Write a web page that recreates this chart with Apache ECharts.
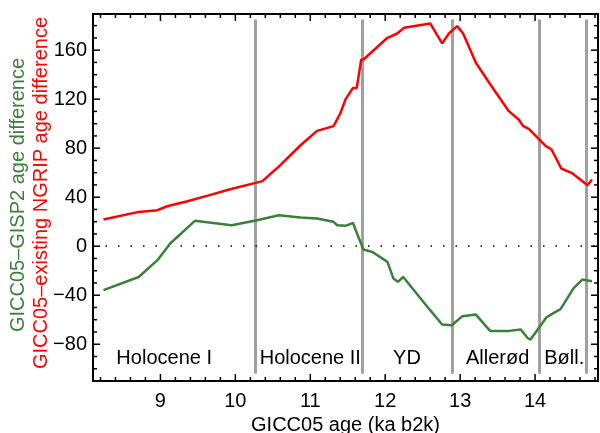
<!DOCTYPE html>
<html>
<head>
<meta charset="utf-8">
<script src="https://cdn.jsdelivr.net/npm/echarts@6/dist/echarts.min.js"></script>
<style>
  html, body { margin: 0; padding: 0; background: #fff; }
  #chart { width: 600px; height: 433px; }
</style>
</head>
<body>
<div id="chart"></div>
<script>
// GICC05 - existing NGRIP age difference (red)
const redAge = [8.24, 8.71, 8.96, 9.09, 9.36, 9.62, 9.93, 10.27, 10.36, 10.60, 10.87, 11.09, 11.31, 11.40, 11.47, 11.57, 11.62, 11.68, 11.71, 12.03, 12.16, 12.25, 12.60, 12.76, 12.85, 12.96, 13.04, 13.21, 13.41, 13.65, 13.78, 13.84, 13.92, 14.14, 14.22, 14.35, 14.50, 14.70, 14.76]
const redDiff = [21.8, 28.0, 29.4, 32.6, 36.7, 41.1, 46.5, 51.7, 53.1, 66.1, 82.4, 94.1, 98.0, 108.3, 119.8, 129.2, 129.2, 152.4, 152.4, 170.1, 173.6, 178.2, 181.8, 165.5, 173.6, 179.6, 173.6, 149.7, 131.4, 110.2, 103.4, 98.2, 95.5, 81.9, 78.9, 63.4, 59.4, 49.8, 54.4]

// GICC05 - GISP2 age difference (green)
const greenAge = [8.24, 8.71, 8.96, 9.13, 9.46, 9.95, 10.29, 10.58, 10.87, 11.09, 11.31, 11.36, 11.47, 11.57, 11.65, 11.71, 11.83, 12.03, 12.11, 12.17, 12.24, 12.60, 12.76, 12.89, 13.03, 13.21, 13.40, 13.65, 13.81, 13.90, 13.94, 14.15, 14.25, 14.34, 14.51, 14.63, 14.76]
const greenDiff = [-35.9, -25.1, -11.4, 2.2, 20.7, 17.1, 21.2, 25.3, 23.4, 22.6, 19.9, 17.1, 16.6, 19.0, 6.3, -2.7, -4.7, -12.8, -26.4, -29.1, -25.1, -52.2, -63.9, -64.5, -57.1, -55.8, -69.1, -69.1, -68.0, -74.9, -76.2, -58.2, -54.4, -51.4, -34.6, -27.2, -28.6]

// period boundaries and labels
const boundaries = [10.27, 11.7, 12.89, 14.06, 14.68]
const periodNames = ['Holocene I', 'Holocene II', 'YD', 'Allerød', 'Bøll.']
const periodCenters = [9.05, 11.0, 12.29, 13.5, 14.39]

// ticks
const xTicks = [9, 10, 11, 12, 13, 14]
const xMinor = [8.2, 8.4, 8.6, 8.8, 9.2, 9.4, 9.6, 9.8, 10.2, 10.4, 10.6, 10.8, 11.2, 11.4, 11.6, 11.8, 12.2, 12.4, 12.6, 12.8, 13.2, 13.4, 13.6, 13.8, 14.2, 14.4, 14.6, 14.8]
const yTicks = [-80, -40, 0, 40, 80, 120, 160]
const yMinor = [-110, -100, -90, -70, -60, -50, -30, -20, -10, 10, 20, 30, 50, 60, 70, 90, 100, 110, 130, 140, 150, 170, 180]

const font = 'Liberation Sans, Arial, sans-serif'
const xMin = 8.1, xMax = 14.84
const yMin = -110, yMax = 189.5

const frame = { color: '#000', width: 2 }

// axes only draw the labels and the frame, ticks come from the custom series
const xAxes = [
  {
    type: 'value', position: 'bottom', min: xMin, max: xMax,
    axisLine: { show: true, onZero: false, lineStyle: frame },
    axisTick: { show: false },
    axisLabel: { customValues: xTicks, fontSize: 20, fontFamily: font, color: '#000', margin: 10 },
    splitLine: { show: false },
    name: 'GICC05 age (ka b2k)', nameLocation: 'middle', nameGap: 32,
    nameTextStyle: { fontSize: 20, fontFamily: font, color: '#000' }
  },
  {
    type: 'value', position: 'top', min: xMin, max: xMax,
    axisLine: { show: true, onZero: false, lineStyle: frame },
    axisTick: { show: false }, axisLabel: { show: false }, splitLine: { show: false }
  }
]
const yAxes = [
  {
    type: 'value', position: 'left', min: yMin, max: yMax,
    axisLine: { show: true, onZero: false, lineStyle: frame },
    axisTick: { show: false },
    axisLabel: {
      customValues: yTicks, fontSize: 20, fontFamily: font, color: '#000', margin: 6,
      formatter: v => String(v).replace('-', '\u2212')
    },
    splitLine: { show: false }
  },
  {
    type: 'value', position: 'right', min: yMin, max: yMax,
    axisLine: { show: true, onZero: false, lineStyle: frame },
    axisTick: { show: false }, axisLabel: { show: false }, splitLine: { show: false }
  }
]

// inward ticks on all four sides: [x, y, side (0 bottom,1 top,2 left,3 right), length]
const tickItems = []
xTicks.forEach(v => { tickItems.push([v, yMin, 0, 7], [v, yMax, 1, 7]) })
xMinor.forEach(v => { tickItems.push([v, yMin, 0, 4], [v, yMax, 1, 4]) })
yTicks.forEach(v => { tickItems.push([xMin, v, 2, 7], [xMax, v, 3, 7]) })
yMinor.forEach(v => { tickItems.push([xMin, v, 2, 4], [xMax, v, 3, 4]) })

const renderTick = (params, api) => {
  const p = api.coord([api.value(0), api.value(1)])
  const side = api.value(2)
  const len = api.value(3)
  let dx = 0, dy = 0
  if (side === 0) dy = -len
  else if (side === 1) dy = len
  else if (side === 2) dx = len
  else dx = -len
  return {
    type: 'line',
    shape: { x1: p[0], y1: p[1], x2: p[0] + dx, y2: p[1] + dy },
    style: { stroke: '#000', lineWidth: 1.5 }
  }
}

const option = {
  animation: false,
  grid: { left: 93, right: 2, top: 14, bottom: 52, containLabel: false, outerBoundsMode: 'none' },
  xAxis: xAxes,
  yAxis: yAxes,
  graphic: [
    { type: 'text', rotation: Math.PI / 2, x: 18, y: 195,
      style: { text: 'GICC05–GISP2 age difference', fill: '#3a7f3a', font: '20px ' + font, textAlign: 'center', textVerticalAlign: 'middle' } },
    { type: 'text', rotation: Math.PI / 2, x: 41, y: 193,
      style: { text: 'GICC05–existing NGRIP age difference', fill: '#ff0000', font: '20px ' + font, textAlign: 'center', textVerticalAlign: 'middle' } }
  ],
  series: [
    {
      type: 'line', data: [], silent: true,
      markLine: {
        silent: true, symbol: 'none', label: { show: false },
        lineStyle: { color: '#a0a0a0', width: 3, type: 'solid' },
        data: boundaries.map(b => [{ coord: [b, -104] }, { coord: [b, 185] }])
      }
    },
    {
      type: 'line', data: [], silent: true,
      markLine: {
        silent: true, symbol: 'none', label: { show: false },
        lineStyle: { color: '#000', width: 1.5, type: [1.5, 11] },
        data: [{ yAxis: 0 }]
      }
    },
    {
      type: 'custom', silent: true, clip: false, z: 10,
      encode: { x: 0, y: 1 },
      renderItem: renderTick,
      data: tickItems
    },
    {
      name: 'GICC05-GISP2', type: 'line', showSymbol: false, z: 5,
      data: greenAge.map((a, i) => [a, greenDiff[i]]),
      lineStyle: { color: '#3a7f3a', width: 2.5 }
    },
    {
      name: 'GICC05-NGRIP', type: 'line', showSymbol: false, z: 6,
      data: redAge.map((a, i) => [a, redDiff[i]]),
      lineStyle: { color: '#ff0000', width: 2.5 }
    },
    {
      type: 'scatter', symbolSize: 0, silent: true,
      itemStyle: { opacity: 1 },
      data: periodNames.map((n, i) => ({ value: [periodCenters[i], -92], name: n })),
      label: {
        show: true, position: [0, 0], align: 'center', verticalAlign: 'middle',
        formatter: p => p.name, fontSize: 20, fontFamily: font, color: '#000', textBorderWidth: 0
      }
    }
  ]
}

const myChart = echarts.init(document.getElementById('chart'))
myChart.setOption(option)
</script>
</body>
</html>
